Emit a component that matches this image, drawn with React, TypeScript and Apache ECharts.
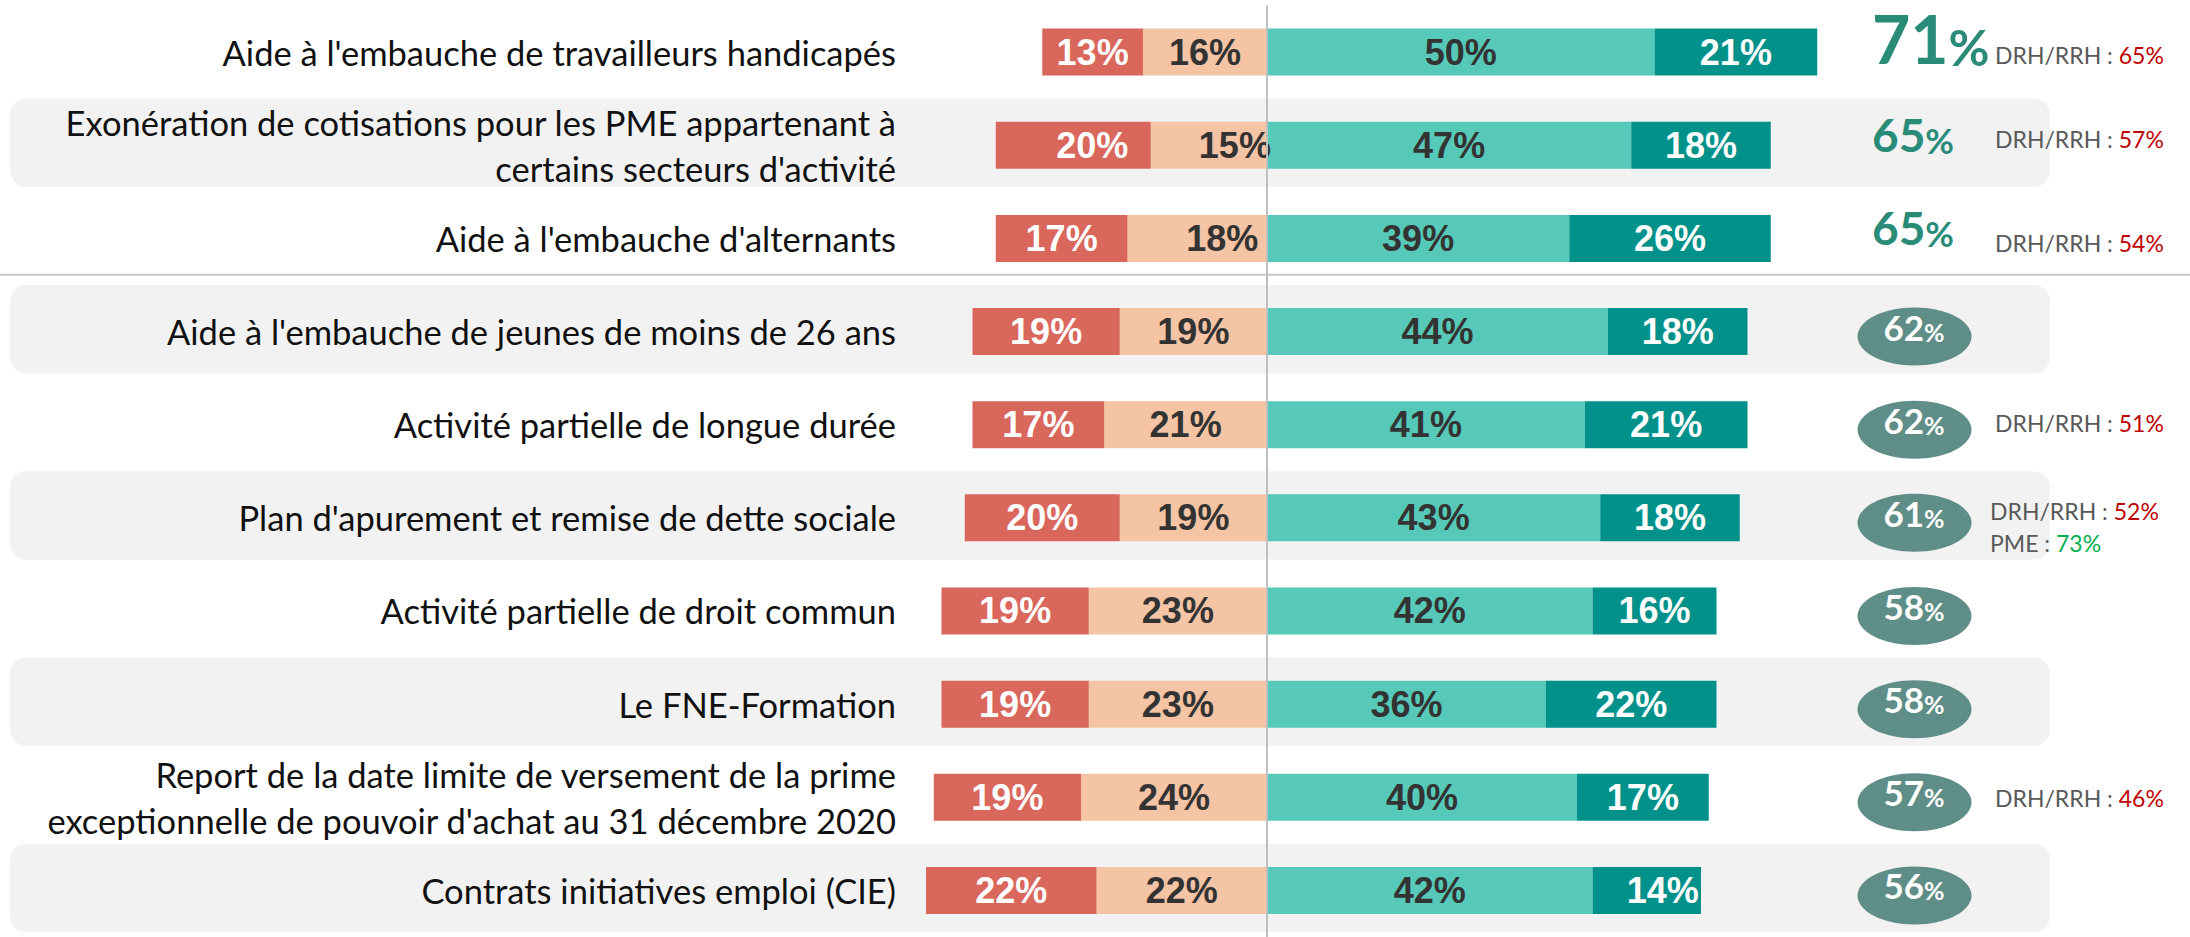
import React, { useEffect, useRef } from "react";
import * as echarts from "echarts";

// ---- Data ----
const CATEGORIES = [
  "Aide à l'embauche de travailleurs handicapés",
  "Exonération de cotisations pour les PME appartenant à\ncertains secteurs d'activité",
  "Aide à l'embauche d'alternants",
  "Aide à l'embauche de jeunes de moins de 26 ans",
  "Activité partielle de longue durée",
  "Plan d'apurement et remise de dette sociale",
  "Activité partielle de droit commun",
  "Le FNE-Formation",
  "Report de la date limite de versement de la prime\nexceptionnelle de pouvoir d'achat au 31 décembre 2020",
  "Contrats initiatives emploi (CIE)",
];
const PAS_DU_TOUT = [13, 20, 17, 19, 17, 20, 19, 19, 19, 22];
const PLUTOT_PAS = [16, 15, 18, 19, 21, 19, 23, 23, 24, 22];
const PLUTOT = [50, 47, 39, 44, 41, 43, 42, 36, 40, 42];
const TOUT_A_FAIT = [21, 18, 26, 18, 21, 18, 16, 22, 17, 14];
const TOTALS = [71, 65, 65, 62, 62, 61, 58, 58, 57, 56];
const DRH_RRH: (number | null)[] = [65, 57, 54, null, 51, 52, null, null, 46, null];
const PME: (number | null)[] = [null, null, null, null, null, 73, null, null, null, null];
const TOP_GROUP = 3;

// ---- Styles / layout ----
const W = 2190;
const H = 937;
const PX_PER_PCT = 7.75;
const ZERO_X = 1267;
const GRID_LEFT = 906;
const X_MAX = 100;
const X_MIN = -(ZERO_X - GRID_LEFT) / PX_PER_PCT;

const C_RED = "#D9675C";
const C_PEACH = "#F4C4A5";
const C_TEAL = "#57C9B8";
const C_DARK = "#00918B";
const C_BIG = "#2A8B78";
const C_BUBBLE = "#5F8D87";

// small label nudges seen in the reference (row index -> px)
const NUDGE_RED: Record<number, number> = { 1: 19 };
const NUDGE_PEACH: Record<number, number> = { 1: 26, 2: 25 };
const NUDGE_DARK: Record<number, number> = { 9: 16 };
const NOTE_DY = [2.5, -6.5, 4.5, 0, -1.5, -7, 0, 0, 1, 0];
const NOTE_DX = [0, 0, 0, 0, 0, -5, 0, 0, 0, 0];

function barData(values: number[], sign: number, nudge: Record<number, number>) {
  return values.map((v, i) =>
    nudge[i] !== undefined
      ? { value: sign * v, label: { offset: [nudge[i], 0] } }
      : sign * v
  );
}

function barLabel(color: string) {
  return {
    show: true,
    position: "inside",
    formatter: (p: any) => Math.abs(p.value) + "%",
    color,
    fontFamily: "Liberation Sans",
    fontWeight: "bold",
    fontSize: 36,
  };
}

export default function App() {
  const ref = useRef<HTMLDivElement>(null);

  useEffect(() => {
    if (!ref.current) return;
    const chart = echarts.init(ref.current, undefined, { renderer: "svg" });
    const rowData = CATEGORIES.map((_, i) => [0, i]);

    const option: any = {
      animation: false,
      backgroundColor: "#FFFFFF",
      grid: { left: GRID_LEFT, width: ZERO_X - GRID_LEFT + X_MAX * PX_PER_PCT, top: 5.5, height: 940 },
      xAxis: {
        type: "value",
        min: X_MIN,
        max: X_MAX,
        show: false,
        splitLine: { show: false },
      },
      yAxis: {
        type: "category",
        data: CATEGORIES,
        inverse: true,
        axisLine: { show: false },
        axisTick: { show: false },
        splitLine: { show: false },
        axisLabel: {
          fontFamily: "Lato",
          fontSize: 34.5,
          color: "#111111",
          lineHeight: 46,
          margin: 10,
          align: "right",
        },
      },
      series: [
        {
          type: "custom",
          z: 0,
          silent: true,
          clip: false,
          data: rowData,
          encode: { x: 0, y: 1 },
          renderItem: (_params: any, api: any) => {
            const i = api.value(1);
            const cy = api.coord([0, i])[1];
            const band = api.size([0, 1])[1];
            const children: any[] = [];
            if (i % 2 === 1) {
              children.push({
                type: "rect",
                shape: { x: 10, y: cy - band * 0.5, width: 2040, height: band * 0.947, r: 16 },
                style: { fill: "#F2F2F2" },
              });
            }
            if (i === TOP_GROUP - 1) {
              const y = cy + band * 0.39;
              children.push({
                type: "line",
                shape: { x1: 0, y1: y, x2: W, y2: y },
                style: { stroke: "#C8C8C8", lineWidth: 2 },
              });
            }
            return { type: "group", children };
          },
        },
        {
          name: "Plutôt pas",
          type: "bar",
          stack: "total",
          barWidth: 47,
          z: 3,
          itemStyle: { color: C_PEACH },
          label: barLabel("#333333"),
          data: barData(PLUTOT_PAS, -1, NUDGE_PEACH),
        },
        {
          name: "Pas du tout",
          type: "bar",
          stack: "total",
          barWidth: 47,
          z: 3,
          itemStyle: { color: C_RED },
          label: barLabel("#FFFFFF"),
          data: barData(PAS_DU_TOUT, -1, NUDGE_RED),
        },
        {
          name: "Plutôt",
          type: "bar",
          stack: "total",
          barWidth: 47,
          z: 3,
          itemStyle: { color: C_TEAL },
          label: barLabel("#333333"),
          data: barData(PLUTOT, 1, {}),
          markLine: {
            silent: true,
            symbol: "none",
            label: { show: false },
            lineStyle: { color: "#BFBFBF", width: 2, type: "solid" },
            data: [{ xAxis: 0 }],
          },
        },
        {
          name: "Tout à fait",
          type: "bar",
          stack: "total",
          barWidth: 47,
          z: 3,
          itemStyle: { color: C_DARK },
          label: barLabel("#FFFFFF"),
          data: barData(TOUT_A_FAIT, 1, NUDGE_DARK),
        },
        {
          type: "custom",
          z: 5,
          silent: true,
          clip: false,
          data: rowData,
          encode: { x: 0, y: 1 },
          renderItem: (_params: any, api: any) => {
            const i = api.value(1);
            const cy = api.coord([0, i])[1];
            const children: any[] = [];
            const total = TOTALS[i];
            if (i < TOP_GROUP) {
              const nfs = i === 0 ? 66 : 46;
              const pfs = i === 0 ? 50 : 35;
              children.push({
                type: "text",
                x: 1872,
                y: cy - 4 + 0.36 * nfs,
                style: {
                  text: `{n|${total}}{p|%}`,
                  align: "left",
                  verticalAlign: "bottom",
                  rich: {
                    n: { fontSize: nfs, fontWeight: "bold", fontFamily: "Lato", fill: C_BIG, lineHeight: nfs * 0.77, verticalAlign: "bottom" },
                    p: { fontSize: pfs, fontWeight: "bold", fontFamily: "Lato", fill: C_BIG, lineHeight: pfs * 0.77, verticalAlign: "bottom" },
                  },
                },
              });
            } else {
              const ccy = cy + 5;
              children.push({
                type: "ellipse",
                shape: { cx: 1914.5, cy: ccy, rx: 57, ry: 29 },
                style: { fill: C_BUBBLE },
              });
              children.push({
                type: "text",
                x: 1914,
                y: ccy + 7.5,
                style: {
                  text: `{n|${total}}{p|%}`,
                  align: "center",
                  verticalAlign: "bottom",
                  rich: {
                    n: { fontSize: 35, fontWeight: "bold", fontFamily: "Lato", fill: "#FFFFFF", lineHeight: 35 * 0.77, verticalAlign: "bottom" },
                    p: { fontSize: 25, fontWeight: "bold", fontFamily: "Lato", fill: "#FFFFFF", lineHeight: 25 * 0.77, verticalAlign: "bottom" },
                  },
                },
              });
            }
            const drh = DRH_RRH[i];
            if (drh !== null) {
              children.push({
                type: "text",
                x: 1995 + NOTE_DX[i],
                y: cy + NOTE_DY[i],
                style: {
                  text: `{l|DRH/RRH : }{v|${drh}%}`,
                  align: "left",
                  verticalAlign: "middle",
                  rich: {
                    l: { fontSize: 23, fontFamily: "Lato", fill: "#595959" },
                    v: { fontSize: 23, fontFamily: "Lato", fill: "#C00000" },
                  },
                },
              });
            }
            const pme = PME[i];
            if (pme !== null) {
              children.push({
                type: "text",
                x: 1995 + NOTE_DX[i],
                y: cy + 25,
                style: {
                  text: `{l|PME : }{v|${pme}%}`,
                  align: "left",
                  verticalAlign: "middle",
                  rich: {
                    l: { fontSize: 23, fontFamily: "Lato", fill: "#595959" },
                    v: { fontSize: 23, fontFamily: "Lato", fill: "#00B050" },
                  },
                },
              });
            }
            return { type: "group", children };
          },
        },
      ],
    };

    chart.setOption(option);
    return () => chart.dispose();
  }, []);

  return (
    <div
      ref={ref}
      style={{ position: "absolute", left: 0, top: 0, width: W, height: H, background: "#fff" }}
    />
  );
}
